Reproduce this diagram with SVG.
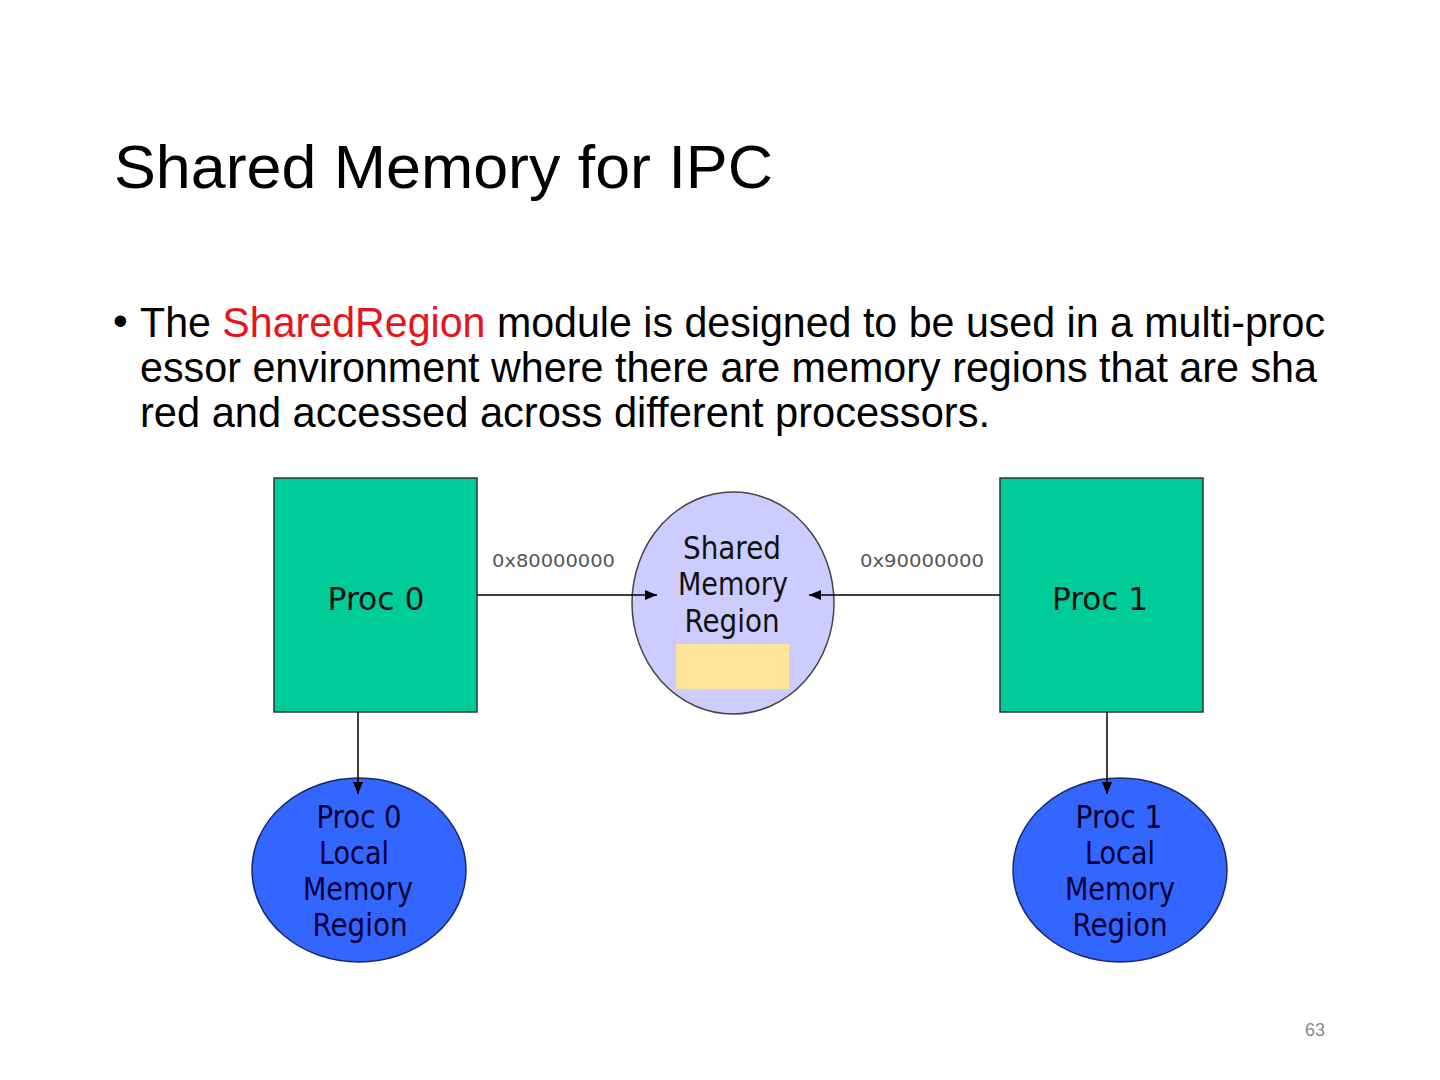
<svg xmlns="http://www.w3.org/2000/svg" width="1440" height="1080" viewBox="0 0 1440 1080">
<defs>
<marker id="arr" viewBox="0 0 12 10" refX="12" refY="5" markerWidth="12" markerHeight="10" markerUnits="userSpaceOnUse" orient="auto">
<path d="M0,0 L12,5 L0,10 z" fill="#000"/>
</marker>
<style>
.title{font-family:"Liberation Sans",Arial,sans-serif;font-size:62px;fill:#000}
.body{font-family:"Liberation Sans",Arial,sans-serif;font-size:42px;fill:#000}
.red{fill:#e8141b}
.lbl{font-family:"DejaVu Sans",Verdana,sans-serif;font-size:17px;fill:#555}
.proc{font-family:"DejaVu Sans",Tahoma,sans-serif;font-size:32px;fill:#111;text-anchor:middle}
.loc{font-family:"DejaVu Sans",Tahoma,sans-serif;font-size:32px;fill:#000033;text-anchor:middle}
.box{fill:#00cc99;stroke:#333;stroke-width:1.5}
.blue{fill:#3366ff;stroke:#1a2a66;stroke-width:1.5}
.conn{stroke:#000;stroke-width:1.5;fill:none}
.pg{font-family:"Liberation Sans",Arial,sans-serif;font-size:18px;fill:#888}
</style>
</defs>
<rect width="1440" height="1080" fill="#fff"/>
<text class="title" x="114" y="188" textLength="659" lengthAdjust="spacingAndGlyphs">Shared Memory for IPC</text>
<text class="body" x="113" y="335" font-size="30">•</text>
<text class="body" x="140" y="337" textLength="1185" lengthAdjust="spacingAndGlyphs">The <tspan class="red">SharedRegion</tspan> module is designed to be used in a multi-proc</text>
<text class="body" x="140" y="382" textLength="1177" lengthAdjust="spacingAndGlyphs">essor environment where there are memory regions that are sha</text>
<text class="body" x="140" y="427" textLength="850" lengthAdjust="spacingAndGlyphs">red and accessed across different processors.</text>
<g id="proc0">
<rect class="box" x="274" y="478" width="203" height="234"/>
<text class="proc" x="376" y="610" textLength="97" lengthAdjust="spacingAndGlyphs">Proc 0</text>
</g>
<g id="proc1">
<rect class="box" x="1000" y="478" width="203" height="234"/>
<text class="proc" x="1100" y="610" textLength="96" lengthAdjust="spacingAndGlyphs">Proc 1</text>
</g>
<g id="shared">
<ellipse cx="733" cy="603" rx="101" ry="111" fill="#ccccff" stroke="#444" stroke-width="1.5"/>
<rect x="676" y="644" width="113" height="45" fill="#ffe599"/>
<text class="proc" x="732" y="559" textLength="98" lengthAdjust="spacingAndGlyphs">Shared</text>
<text class="proc" x="733" y="595" textLength="110" lengthAdjust="spacingAndGlyphs">Memory</text>
<text class="proc" x="732" y="632" textLength="95" lengthAdjust="spacingAndGlyphs">Region</text>
</g>
<g id="local0">
<ellipse class="blue" cx="359" cy="870" rx="107" ry="92"/>
<text class="loc" x="359" y="828" textLength="85" lengthAdjust="spacingAndGlyphs">Proc 0</text>
<text class="loc" x="354" y="864" textLength="70" lengthAdjust="spacingAndGlyphs">Local</text>
<text class="loc" x="358" y="900" textLength="110" lengthAdjust="spacingAndGlyphs">Memory</text>
<text class="loc" x="360" y="936" textLength="95" lengthAdjust="spacingAndGlyphs">Region</text>
</g>
<g id="local1">
<ellipse class="blue" cx="1120" cy="870" rx="107" ry="92"/>
<text class="loc" x="1119" y="828" textLength="87" lengthAdjust="spacingAndGlyphs">Proc 1</text>
<text class="loc" x="1120" y="864" textLength="70" lengthAdjust="spacingAndGlyphs">Local</text>
<text class="loc" x="1120" y="900" textLength="110" lengthAdjust="spacingAndGlyphs">Memory</text>
<text class="loc" x="1120" y="936" textLength="95" lengthAdjust="spacingAndGlyphs">Region</text>
</g>
<g id="connectors">
<line class="conn" x1="477" y1="595" x2="657" y2="595" marker-end="url(#arr)"/>
<line class="conn" x1="1000" y1="595" x2="809" y2="595" marker-end="url(#arr)"/>
<line class="conn" x1="358" y1="712" x2="358" y2="794" marker-end="url(#arr)"/>
<line class="conn" x1="1107" y1="712" x2="1107" y2="794" marker-end="url(#arr)"/>
<text class="lbl" x="492" y="567" textLength="123" lengthAdjust="spacingAndGlyphs">0x80000000</text>
<text class="lbl" x="860" y="567" textLength="124" lengthAdjust="spacingAndGlyphs">0x90000000</text>
</g>
<text class="pg" x="1305" y="1036">63</text>
</svg>
